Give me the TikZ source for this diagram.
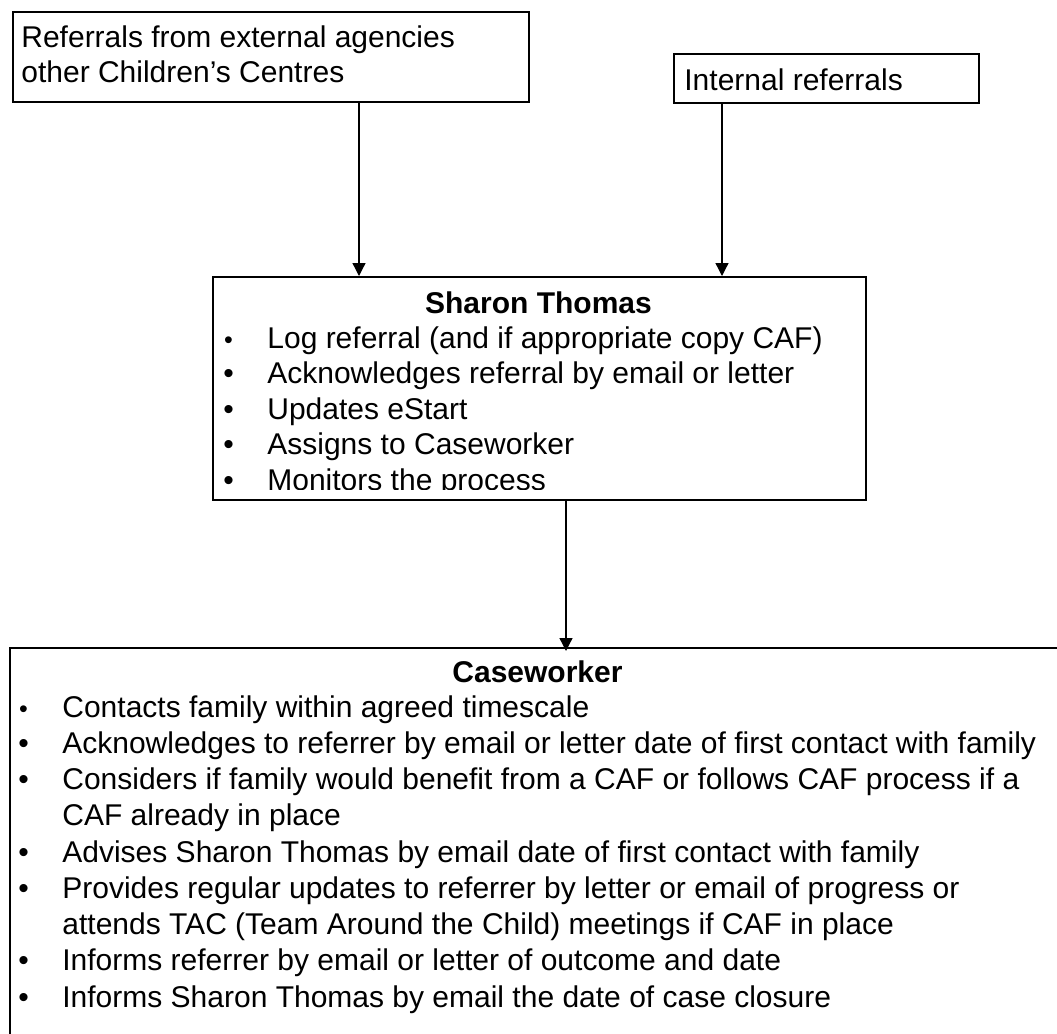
\documentclass[tikz,border=0pt]{standalone}
\usepackage{fontspec}
\setmainfont{Liberation Sans}
\usetikzlibrary{arrows.meta}

\newcommand{\bul}{\makebox[22pt][l]{\textbullet}}
\newcommand{\smallbul}{\makebox[22pt][l]{\hspace{0.4pt}\fontsize{12.5pt}{12.5pt}\selectfont\textbullet}}
\newcommand{\cont}{\hspace*{22pt}}

\begin{document}
\begin{tikzpicture}[x=0.5pt,y=-0.5pt,
  box/.style={draw,line width=1pt,rectangle,inner sep=0pt,anchor=north west},
  txt/.style={inner sep=0pt,anchor=base west,font=\fontsize{15pt}{17.5pt}\selectfont},
  title/.style={inner sep=0pt,anchor=base,font=\fontsize{15pt}{18pt}\selectfont\bfseries},
  arr/.style={line width=0.65pt,-{Triangle[width=6.5pt,length=6.5pt]}}]

\useasboundingbox (0,0) rectangle (1057,1034);
\clip (0,0) rectangle (1057,1034);

% external referrals node
\node[box,minimum width=258pt,minimum height=45pt] (external) at (12,11) {};
\node[txt] (externaltext) at (21,47) {\parbox[t]{250pt}{Referrals from external agencies\\other Children's Centres}};

% internal referrals node
\node[box,minimum width=152.5pt,minimum height=24.5pt] (internal) at (673,53) {};
\node[txt] (internaltext) at (684,90) {Internal referrals};

% sharon thomas node
\node[box,minimum width=326.5pt,minimum height=111.5pt] (sharon) at (212,276) {};
\node[title] (sharontitle) at (538.5,313) {Sharon Thomas};
\begin{scope}
\clip (212,276) rectangle (865,489);
\node[txt,font=\fontsize{15pt}{17.75pt}\selectfont] (sharonlist) at (223,348) {\parbox[t]{315pt}{%
\smallbul Log referral (and if appropriate copy CAF)\\
\bul Acknowledges referral by email or letter\\
\bul Updates eStart\\
\bul Assigns to Caseworker\\
\bul Monitors the process}};
\end{scope}

% caseworker node
\node[box,minimum width=528.5pt,minimum height=210pt] (caseworker) at (9,647) {};
\node[title] (caseworkertitle) at (537.5,682) {Caseworker};
\node[txt,font=\fontsize{15pt}{18.125pt}\selectfont] (caseworkerlist) at (18,717) {\parbox[t]{515pt}{%
\smallbul Contacts family within agreed timescale\\
\bul Acknowledges to referrer by email or letter date of first contact with family\\
\bul Considers if family would benefit from a CAF or follows CAF process if a\\
\cont CAF already in place\\
\bul Advises Sharon Thomas by email date of first contact with family\\
\bul Provides regular updates to referrer by letter or email of progress or\\
\cont attends TAC (Team Around the Child) meetings if CAF in place\\
\bul Informs referrer by email or letter of outcome and date\\
\bul Informs Sharon Thomas by email the date of case closure}};

% connectors
\coordinate (extin) at (359,276);
\coordinate (intin) at (722,276);
\coordinate (caseout) at (566,499);

\draw[arr] (external.south -| extin) -- (sharon.north -| extin);
\draw[arr] (internal.south -| intin) -- (sharon.north -| intin);
\draw[arr,shorten >=-2pt] (sharon.south -| caseout) -- (caseworker.north -| caseout);

\end{tikzpicture}
\end{document}
